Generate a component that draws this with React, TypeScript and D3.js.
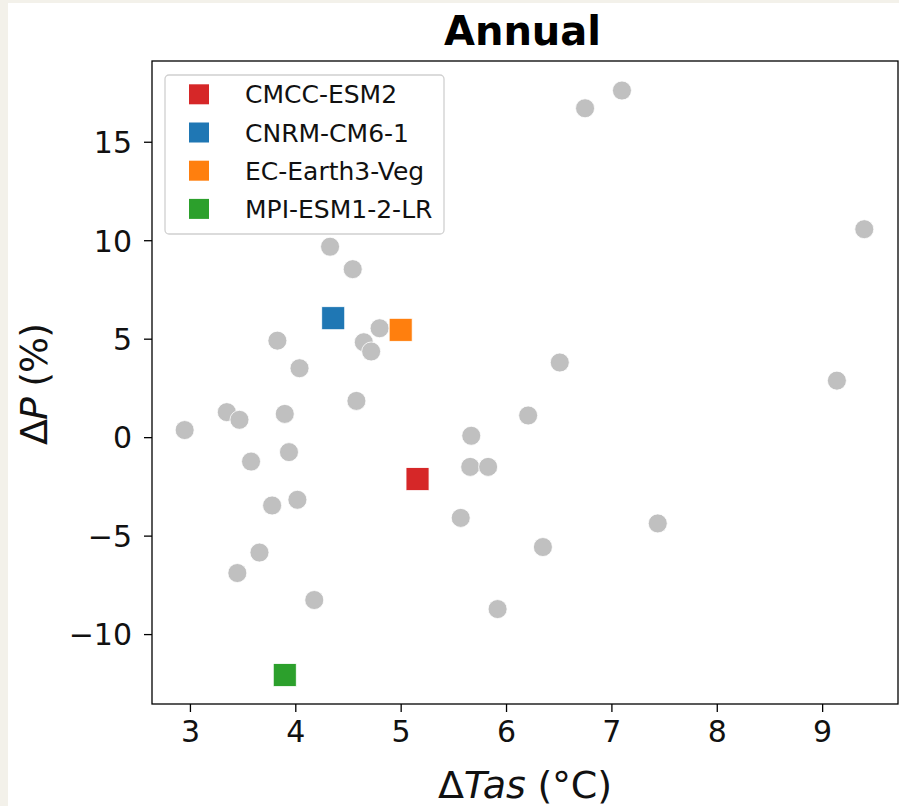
import React, { useRef, useEffect } from 'react';
import * as d3 from 'd3';

// other ensemble members (grey dots)
const otherTas = [6.75, 7.10, 9.40, 6.51, 9.14, 4.33, 4.545, 4.80, 4.65, 4.72, 3.83, 4.04, 4.58, 3.35, 3.47, 3.90,
  2.95, 3.58, 3.94, 3.78, 4.02, 3.66, 3.45, 4.18, 6.21, 5.67, 5.66, 5.83, 5.57, 7.44, 6.35, 5.92];
const otherDP = [16.7, 17.6, 10.56, 3.79, 2.87, 9.67, 8.53, 5.53, 4.82, 4.35, 4.90, 3.50, 1.84, 1.27, 0.88, 1.18,
  0.36, -1.24, -0.76, -3.47, -3.18, -5.86, -6.90, -8.27, 1.10, 0.07, -1.51, -1.51, -4.10, -4.38, -5.58, -8.73];

// highlighted models
const modelNames = ['CMCC-ESM2', 'CNRM-CM6-1', 'EC-Earth3-Veg', 'MPI-ESM1-2-LR'];
const modelTas = [5.16, 4.36, 5.0, 3.9];
const modelDP = [-2.13, 6.04, 5.45, -12.08];
const modelColors = ['#d62728', '#1f77b4', '#ff7f0e', '#2ca02c'];

const xTicks = [3, 4, 5, 6, 7, 8, 9];
const yTicks = [-10, -5, 0, 5, 10, 15];

const FONT = '"DejaVu Sans", sans-serif';

function App() {
  const svgRef = useRef<SVGSVGElement>(null);

  useEffect(() => {
    const W = 899, H = 806;
    const box = { left: 152, top: 61, right: 898, bottom: 704 };
    const svg = d3.select(svgRef.current);
    svg.selectAll('*').remove();

    // page background + white figure
    svg.append('rect').attr('width', W).attr('height', H).attr('fill', '#f3f1ea');
    svg.append('rect').attr('x', 8).attr('y', 3).attr('width', W - 8).attr('height', H - 3).attr('fill', '#ffffff');

    const x = d3.scaleLinear().domain([2.64, 9.72]).range([box.left, box.right]);
    const y = d3.scaleLinear().domain([-13.55, 19.1]).range([box.bottom, box.top]);

    // axes
    const xAxis = d3.axisBottom(x).tickValues(xTicks).tickSize(8).tickSizeOuter(0).tickPadding(9)
      .tickFormat(d => d3.format('d')(d as number));
    const yAxis = d3.axisLeft(y).tickValues(yTicks).tickSize(8).tickSizeOuter(0).tickPadding(12)
      .tickFormat(d => String(d).replace('-', '\u2212'));

    const gx = svg.append('g').attr('transform', `translate(0,${box.bottom})`).call(xAxis);
    const gy = svg.append('g').attr('transform', `translate(${box.left},0)`).call(yAxis);
    [gx, gy].forEach(g => {
      g.select('.domain').remove();
      g.selectAll('line').attr('stroke', '#000').attr('stroke-width', 1.3);
      g.selectAll('text').attr('font-family', FONT).attr('font-size', 30).attr('fill', '#111');
    });
    gx.selectAll('text').attr('dy', '0.71em');
    gy.selectAll('text').attr('dy', '0.36em');

    // spines
    svg.append('rect')
      .attr('x', box.left).attr('y', box.top)
      .attr('width', box.right - box.left).attr('height', box.bottom - box.top)
      .attr('fill', 'none').attr('stroke', '#000').attr('stroke-width', 1.3);

    // grey dots
    svg.append('g').selectAll('circle')
      .data(otherTas.map((t, i) => ({ t, p: otherDP[i] })))
      .join('circle')
      .attr('cx', d => x(d.t)).attr('cy', d => y(d.p)).attr('r', 9.5)
      .attr('fill', '#c0c0c0').attr('stroke', '#fff').attr('stroke-width', 0.8);

    // model squares
    const sq = 23;
    svg.append('g').selectAll('rect')
      .data(modelNames.map((n, i) => ({ n, t: modelTas[i], p: modelDP[i], c: modelColors[i] })))
      .join('rect')
      .attr('x', d => x(d.t) - sq / 2).attr('y', d => y(d.p) - sq / 2)
      .attr('width', sq).attr('height', sq)
      .attr('fill', d => d.c).attr('stroke', '#fff').attr('stroke-width', 0.8);

    // legend
    const lg = svg.append('g');
    lg.append('rect').attr('x', 165).attr('y', 75).attr('width', 279).attr('height', 159).attr('rx', 4)
      .attr('fill', '#fff').attr('fill-opacity', 0.8).attr('stroke', '#d0d0d0').attr('stroke-width', 1.3);
    modelNames.forEach((n, i) => {
      const ry = 94.3 + i * 38.2;
      lg.append('rect').attr('x', 189).attr('y', ry - 10).attr('width', 20).attr('height', 20).attr('fill', modelColors[i]);
      lg.append('text').attr('x', 245).attr('y', ry + 9).attr('font-family', FONT).attr('font-size', 25)
        .attr('fill', '#111').text(n);
    });

    // title
    svg.append('text').attr('x', 522.5).attr('y', 45).attr('text-anchor', 'middle')
      .attr('font-family', FONT).attr('font-weight', 'bold').attr('font-size', 40).attr('fill', '#000').text('Annual');

    // x label
    const xl = svg.append('text').attr('x', 438).attr('y', 798)
      .attr('textLength', 174).attr('lengthAdjust', 'spacing')
      .attr('font-family', FONT).attr('font-size', 38).attr('fill', '#111');
    xl.append('tspan').text('\u0394');
    xl.append('tspan').attr('font-style', 'italic').text('Tas');
    xl.append('tspan').text(' (\u00b0C)');

    // y label
    const yl = svg.append('text')
      .attr('transform', `translate(47,445) rotate(-90)`)
      .attr('textLength', 122).attr('lengthAdjust', 'spacing')
      .attr('font-family', FONT).attr('font-size', 38).attr('fill', '#111');
    yl.append('tspan').text('\u0394');
    yl.append('tspan').attr('font-style', 'italic').text('P');
    yl.append('tspan').text(' (%)');
  }, []);

  return (
    <svg ref={svgRef} width={899} height={806}
      style={{ position: 'absolute', left: 0, top: 0, display: 'block' }} />
  );
}

export default App;
